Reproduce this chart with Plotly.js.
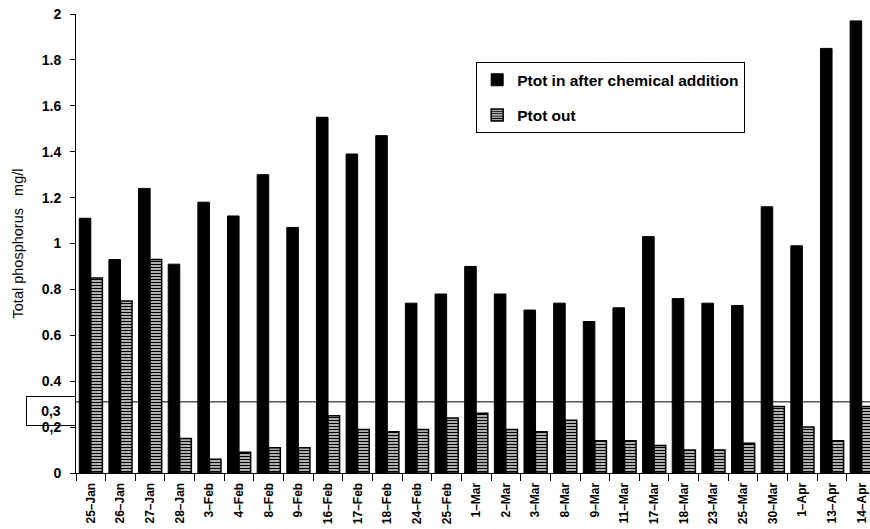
<!DOCTYPE html>
<html>
<head>
<meta charset="utf-8">
<script src="https://cdn.plot.ly/plotly-3.0.1.min.js"></script>
<style>html,body{margin:0;padding:0;background:#fff;}#chart{width:870px;height:529px;}</style>
</head>
<body>
<div id="chart"></div>
<script>
const categories = ["25–Jan","26–Jan","27–Jan","28–Jan","3–Feb","4–Feb","8–Feb","9–Feb","16–Feb","17–Feb","18–Feb","24–Feb","25–Feb","1–Mar","2–Mar","3–Mar","8–Mar","9–Mar","11–Mar","17–Mar","18–Mar","23–Mar","25–Mar","30–Mar","1–Apr","13–Apr","14–Apr"];
const ptotIn = [1.11,0.93,1.24,0.91,1.18,1.12,1.30,1.07,1.55,1.39,1.47,0.74,0.78,0.90,0.78,0.71,0.74,0.66,0.72,1.03,0.76,0.74,0.73,1.16,0.99,1.85,1.97];
const ptotOut = [0.85,0.75,0.93,0.15,0.06,0.09,0.11,0.11,0.25,0.19,0.18,0.19,0.24,0.26,0.19,0.18,0.23,0.14,0.14,0.12,0.10,0.10,0.13,0.29,0.20,0.14,0.29];
const limitValue = 0.31;
const limitLabel = "0,3";
const yTickVals = [0,0.2,0.4,0.6,0.8,1,1.2,1.4,1.6,1.8,2];
const yTickText = ["0","0,2","0.4","0.6","0.8","1","1.2","1.4","1.6","1.8","2"];
const seriesNames = ["Ptot in after chemical addition","Ptot out"];

const traces = [
  {type:'bar', x:categories, y:ptotIn, name:seriesNames[0], legendgroup:'a',
   marker:{color:'#000', line:{color:'#000', width:1}}},
  {type:'bar', x:categories, y:ptotOut, name:seriesNames[1], legendgroup:'b',
   marker:{color:'#fff', line:{color:'#000', width:1.5},
     pattern:{shape:'-', size:3, solidity:0.55, fgcolor:'#000', bgcolor:'#fff'}}}
];

const layout = {
  width:870, height:529,
  margin:{l:76, r:0, t:14, b:56, pad:0},
  paper_bgcolor:'#fff', plot_bgcolor:'#fff',
  barmode:'group', bargap:0.22, bargroupgap:0,
  font:{family:'Liberation Sans, Arial, sans-serif', color:'#000'},
  showlegend:true,
  legend:{x:0.504, y:0.895, xanchor:'left', yanchor:'top',
    bordercolor:'#000', borderwidth:1, bgcolor:'#fff', itemwidth:30,
    font:{family:'Liberation Sans, Arial, sans-serif', size:15.5, weight:'bold', color:'#000'},
    traceorder:'grouped', tracegroupgap:12},
  xaxis:{type:'category', range:[-0.5, 26.28], automargin:false,
    showline:true, linecolor:'#000', linewidth:1,
    ticks:'outside', tickson:'boundaries', ticklen:7, tickcolor:'#000',
    tickangle:-90, ticklabelstandoff:4, showgrid:false, zeroline:false,
    tickfont:{family:'Liberation Sans Narrow, Liberation Sans, Arial', size:12, weight:'bold', color:'#000'}},
  yaxis:{range:[0,2], automargin:false, showline:true, linecolor:'#000', linewidth:1,
    ticks:'outside', ticklen:5, tickcolor:'#000', tickvals:yTickVals, ticktext:yTickText,
    ticklabelstandoff:6, showgrid:false, zeroline:false,
    tickfont:{family:'Liberation Sans, Arial', size:14, weight:'bold', color:'#000'},
    title:{text:'Total phosphorus   mg/l', standoff:14, font:{family:'Liberation Sans, Arial', size:14.5, color:'#000'}}},
  yaxis2:{range:[0,2], overlaying:'y', side:'left', showline:false, ticks:'inside', ticklen:8,
    tickcolor:'#000', tickvals:yTickVals, showticklabels:false, showgrid:false, zeroline:false},
  shapes:[{type:'line', xref:'paper', x0:0, x1:1, yref:'y', y0:limitValue, y1:limitValue,
    line:{color:'#000', width:1}, layer:'below'}],
  annotations:[{xref:'paper', x:0, xanchor:'right', yref:'y', y:0.272, yanchor:'middle',
    text:limitLabel, showarrow:false, width:46, height:26, bordercolor:'#000', borderwidth:1,
    bgcolor:'rgba(255,255,255,0)',
    font:{family:'Liberation Sans, Arial', size:14, weight:'bold', color:'#000'}}]
};

Plotly.newPlot('chart', traces, layout, {displayModeBar:false, staticPlot:true});
</script>
</body>
</html>
